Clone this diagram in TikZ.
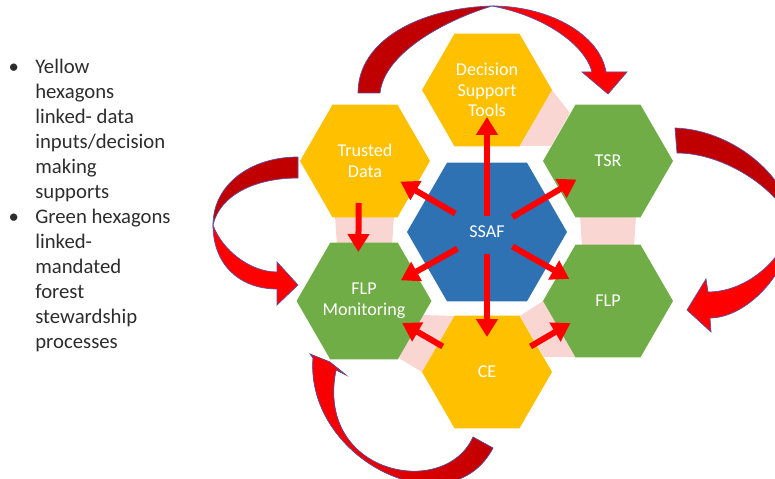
\documentclass[tikz,border=0pt]{standalone}
\usepackage{fontspec}
\setmainfont{Carlito}
\usetikzlibrary{shapes.geometric,arrows.meta,calc}
\definecolor{hexyellow}{RGB}{255,192,0}
\definecolor{hexgreen}{RGB}{112,173,71}
\definecolor{hexblue}{RGB}{46,114,180}
\definecolor{padpink}{RGB}{249,214,210}
\definecolor{arrowred}{RGB}{255,0,0}
\definecolor{deepred}{RGB}{192,0,0}
\definecolor{rimblue}{RGB}{95,80,160}
\definecolor{notegray}{RGB}{45,45,45}

\begin{document}
\begin{tikzpicture}[x=0.02cm,y=-0.02cm,
  hexa/.style={regular polygon,regular polygon sides=6,minimum size=2.6cm,
    inner sep=0pt,outer sep=0pt,text=white,align=center,
    font=\fontsize{10.3}{11.8}\selectfont},
  hexbig/.style={hexa,minimum size=3.2cm},
  spoke/.style={-{Triangle[length=0.36cm,width=0.42cm]},line width=0.12cm,arrowred},
  rim/.style={draw=rimblue,line width=0.4pt}]
\clip (0,0) rectangle (775,479);

\node[anchor=north west,align=left,inner sep=0pt,text=notegray,
  font=\fontsize{11.8}{14.23}\selectfont] (notes) at (35,59)
  {\llap{\textbullet\hspace{0.33cm}}Yellow\\hexagons\\linked- data\\inputs/decision\\making\\supports\\
   \llap{\textbullet\hspace{0.33cm}}Green hexagons\\linked-\\mandated\\forest\\stewardship\\processes};

\fill[padpink] (552,90) -- (520,146) -- (551,146) -- (570,113) -- cycle;
\fill[padpink] (335,216) -- (394,216) -- (392,246) -- (337,246) -- cycle;
\fill[padpink] (580,216) -- (636,216) -- (634,246) -- (582,246) -- cycle;
\fill[padpink] (421,315) -- (397,357) -- (422,372) -- (454,316) -- cycle;
\fill[padpink] (520,316) -- (544,357) -- (575,357) -- (543,301) -- cycle;

\node[hexbig,fill=hexblue] (ssaf) at (487,232) {SSAF};
\foreach \name/\pos/\col/\txt in {dst/{(487,90)}/hexyellow/{Decision\\Support\\Tools},
    trusted/{(365,161)}/hexyellow/{Trusted\\Data},
    tsr/{(608,161)}/hexgreen/{TSR},
    flpmon/{(364,301)}/hexgreen/{FLP\\Monitoring},
    flp/{(608,301)}/hexgreen/{FLP},
    ce/{(487,372)}/hexyellow/{CE}}
  \node[hexa,fill=\col] (\name) at \pos {\txt};

\draw[spoke] ($(ssaf)!0.11!(dst)$) -- ($(ssaf)!0.81!(dst)$);
\draw[spoke] ($(ssaf)!0.26!(trusted)$) -- ($(ssaf)!0.71!(trusted)$);
\draw[spoke] ($(ssaf)!0.21!(tsr)$) -- ($(ssaf)!0.74!(tsr)$);
\draw[spoke] ($(ssaf)!0.24!(flpmon)$) -- ($(ssaf)!0.70!(flpmon)$);
\draw[spoke] ($(ssaf)!0.21!(flp)$) -- ($(ssaf)!0.68!(flp)$);
\draw[spoke] ($(ssaf)!0.16!(ce)$) -- ($(ssaf)!0.75!(ce)$);
\draw[spoke] ($(trusted)!0.3!(flpmon)+(-6,0)$) -- ($(trusted)!0.65!(flpmon)+(-6,0)$);
\draw[spoke] ($(ce)!0.36!(flpmon)$) -- ($(ce)!0.69!(flpmon)$);
\draw[spoke] ($(ce)!0.36!(flp)$) -- ($(ce)!0.69!(flp)$);

% top
\filldraw[rim,fill=deepred] (358,93) .. controls (358,40) and (420,8) .. (492,6)
  .. controls (440,22) and (384,55) .. (380,93) -- cycle;
\filldraw[rim,fill=arrowred] (492,6) .. controls (550,6) and (600,35) .. (606,72)
  -- (627,72) -- (608,94) -- (582,72) -- (592,72)
  .. controls (585,45) and (545,16) .. (492,6) -- cycle;
% right
\filldraw[rim,fill=deepred] (675,128) .. controls (735,130) and (792,180) .. (792,225)
  .. controls (780,190) and (725,153) .. (677,153) -- cycle;
\filldraw[rim,fill=arrowred] (792,225) .. controls (790,275) and (745,318) .. (710,318)
  -- (711,332) -- (687,310) -- (706,279) -- (708,292)
  .. controls (745,292) and (782,262) .. (792,225) -- cycle;
% left
\filldraw[rim,fill=deepred] (298,157) .. controls (250,157) and (213,185) .. (213,225)
  .. controls (220,195) and (255,178) .. (298,178) -- cycle;
\filldraw[rim,fill=arrowred] (213,225) .. controls (213,265) and (240,289) .. (277,289)
  -- (277,305) -- (298,285) -- (277,262) -- (277,272)
  .. controls (250,272) and (222,250) .. (213,225) -- cycle;
% bottom
\filldraw[rim,left color=arrowred,right color=deepred] (313,358)
  .. controls (305,460) and (450,530) .. (493,448) -- (473,437)
  .. controls (445,500) and (315,475) .. (336,370)
  -- (346,375) -- (330,362) -- (310,354) -- cycle;
\end{tikzpicture}
\end{document}
